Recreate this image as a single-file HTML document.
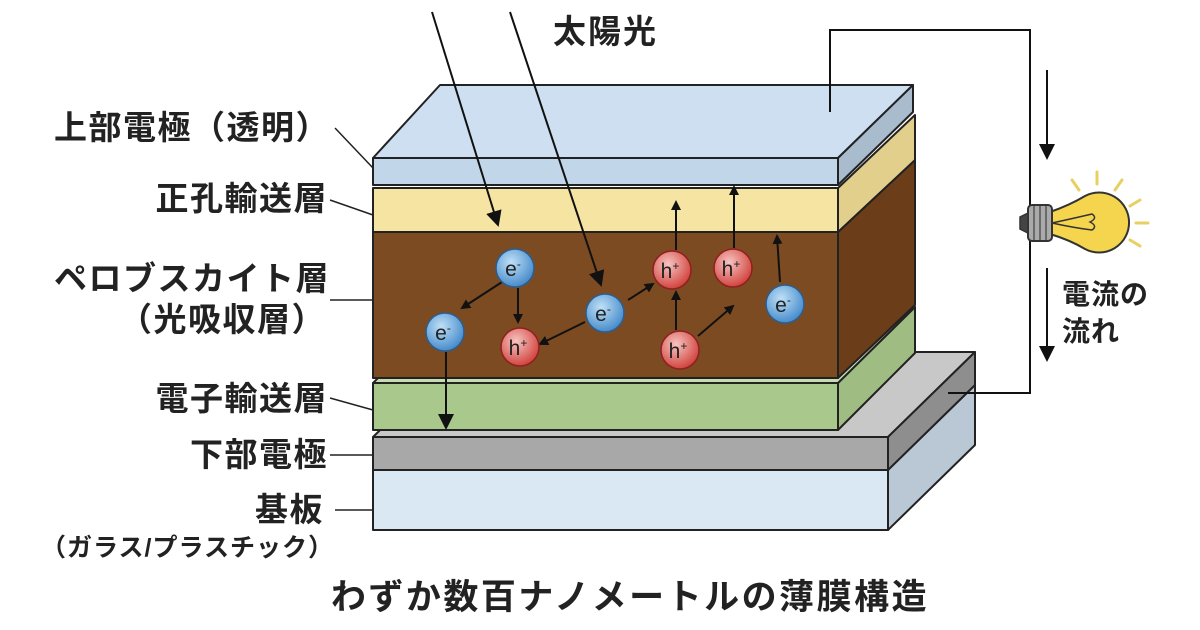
<!DOCTYPE html>
<html><head><meta charset="utf-8"><style>
html,body{margin:0;padding:0;background:#fff;}
svg{display:block}
text{font-family:"Liberation Sans","Noto Sans CJK JP",sans-serif;font-weight:bold;fill:#222}
</style></head><body>
<svg width="1200" height="630" viewBox="0 0 1200 630" xmlns="http://www.w3.org/2000/svg">
<defs>
<marker id="ah" markerWidth="10" markerHeight="10" refX="8" refY="5" orient="auto" markerUnits="userSpaceOnUse"><path d="M0,0 L10,5 L0,10 z" fill="#111"/></marker>
<marker id="ahb" markerWidth="16" markerHeight="16" refX="14" refY="8" orient="auto" markerUnits="userSpaceOnUse"><path d="M0,0 L16,8 L0,16 z" fill="#111"/></marker>
<radialGradient id="gb" cx="0.4" cy="0.35" r="0.7"><stop offset="0" stop-color="#bfe0f7"/><stop offset="1" stop-color="#3f86c8"/></radialGradient>
<radialGradient id="gr" cx="0.4" cy="0.35" r="0.7"><stop offset="0" stop-color="#f7c4c0"/><stop offset="1" stop-color="#cf3b36"/></radialGradient>
</defs>
<g stroke="#222" stroke-width="2" stroke-linejoin="round">
<polygon points="888,470 975,385 975,445 888,530" fill="#b9c8d4"/>
<rect x="373" y="470" width="515" height="60" fill="#d9e8f3"/>
<polygon points="373,437 460,352 975,352 888,437" fill="#c8c8c8"/>
<polygon points="888,437 975,352 975,385 888,470" fill="#8e8e8e"/>
<rect x="373" y="437" width="515" height="33" fill="#a8a8a8"/>
<polygon points="838,383 915,307 915,353 838,430" fill="#9fbc83"/>
<polygon points="373,383 450,307 915,307 838,383" fill="#c6dcae"/>
<rect x="373" y="383" width="465" height="47" fill="#a9c98c"/>
<polygon points="838,232 915,160 915,305 838,378" fill="#6b3d18"/>
<rect x="373" y="232" width="465" height="146" fill="#7d4b22"/>
<polygon points="838,188 915,115 915,160 838,232" fill="#e3cf8c"/>
<rect x="373" y="188" width="465" height="44" fill="#f6e4a3"/>
<polygon points="373,158 440,85 913,85 838,158" fill="#cddff0"/>
<polygon points="838,158 913,85 913,112 838,185" fill="#a9bccd"/>
<rect x="373" y="158" width="465" height="27" fill="#c2d6ea"/>
</g>
<g stroke="#222" stroke-width="1.5" fill="none">
<path d="M335,128 L373,168"/><path d="M330,200 L373,215"/><path d="M330,300 L373,300"/>
<path d="M330,398 L373,410"/><path d="M330,455 L373,455"/><path d="M335,510 L373,510"/>
</g>
<g stroke="#111" stroke-width="2" fill="none">
<path d="M830,112 L830,30 L1030,30 L1030,393 L948,393"/>
<line x1="1047" y1="70" x2="1047" y2="158" marker-end="url(#ahb)"/>
<line x1="1047" y1="268" x2="1047" y2="360" marker-end="url(#ahb)"/>
<line x1="432" y1="12" x2="498" y2="225" marker-end="url(#ahb)"/>
<line x1="510" y1="12" x2="601" y2="285" marker-end="url(#ahb)"/>
<line x1="502" y1="282" x2="462" y2="308" marker-end="url(#ah)"/>
<line x1="518" y1="288" x2="518" y2="322" marker-end="url(#ah)"/>
<line x1="585" y1="322" x2="540" y2="344" marker-end="url(#ah)"/>
<line x1="628" y1="300" x2="653" y2="284" marker-end="url(#ah)"/>
<line x1="676" y1="330" x2="676" y2="292" marker-end="url(#ah)"/>
<line x1="698" y1="336" x2="733" y2="306" marker-end="url(#ah)"/>
<line x1="676" y1="250" x2="676" y2="202" marker-end="url(#ah)"/>
<line x1="734" y1="248" x2="734" y2="187" marker-end="url(#ah)"/>
<line x1="780" y1="282" x2="777" y2="236" marker-end="url(#ah)"/>
<line x1="446" y1="352" x2="446" y2="428" marker-end="url(#ahb)"/>
</g>
<g stroke="#2b5e91" stroke-width="1.5">
<circle cx="515" cy="268" r="19" fill="url(#gb)"/>
<circle cx="445" cy="332" r="19" fill="url(#gb)"/>
<circle cx="605" cy="313" r="19" fill="url(#gb)"/>
<circle cx="785" cy="304" r="19" fill="url(#gb)"/>
</g>
<g stroke="#8e2020" stroke-width="1.5">
<circle cx="520" cy="347" r="19" fill="url(#gr)"/>
<circle cx="672" cy="270" r="19" fill="url(#gr)"/>
<circle cx="733" cy="268" r="19" fill="url(#gr)"/>
<circle cx="680" cy="350" r="19" fill="url(#gr)"/>
</g>
<g font-size="21" text-anchor="middle">
<text x="513" y="276" style="font-weight:normal">e<tspan font-size="12" dy="-8">-</tspan></text>
<text x="443" y="340" style="font-weight:normal">e<tspan font-size="12" dy="-8">-</tspan></text>
<text x="603" y="321" style="font-weight:normal">e<tspan font-size="12" dy="-8">-</tspan></text>
<text x="783" y="312" style="font-weight:normal">e<tspan font-size="12" dy="-8">-</tspan></text>
<text x="518" y="355" style="font-weight:normal">h<tspan font-size="12" dy="-8">+</tspan></text>
<text x="670" y="278" style="font-weight:normal">h<tspan font-size="12" dy="-8">+</tspan></text>
<text x="731" y="276" style="font-weight:normal">h<tspan font-size="12" dy="-8">+</tspan></text>
<text x="678" y="358" style="font-weight:normal">h<tspan font-size="12" dy="-8">+</tspan></text>
</g>
<g stroke="#e8d060" stroke-width="3" stroke-linecap="round">
<line x1="1097" y1="172" x2="1097" y2="184"/><line x1="1072" y1="180" x2="1079" y2="190"/>
<line x1="1122" y1="180" x2="1115" y2="190"/><line x1="1140" y1="200" x2="1130" y2="206"/>
<line x1="1148" y1="223" x2="1136" y2="223"/><line x1="1140" y1="246" x2="1130" y2="240"/>
</g>
<path d="M1050,212 Q1070,205 1085,196 A30,30 0 1 1 1085,249 Q1070,240 1050,234 Z" fill="#f5d54d" stroke="#333" stroke-width="2"/>
<path d="M1052,223 Q1075,218 1092,214 Q1098,218 1090,222 Q1098,226 1092,230 Q1075,228 1052,223" fill="none" stroke="#333" stroke-width="1.5"/>
<rect x="1028" y="205" width="24" height="36" rx="4" fill="#aaa" stroke="#333" stroke-width="2"/>
<g stroke="#555" stroke-width="1.5"><line x1="1034" y1="206" x2="1034" y2="240"/><line x1="1040" y1="206" x2="1040" y2="240"/><line x1="1046" y1="206" x2="1046" y2="240"/></g>
<path d="M1028,213 L1020,217 L1020,229 L1028,233 Z" fill="#444" stroke="#333" stroke-width="1.5"/>
<text x="553" y="43" font-size="33" letter-spacing="2">太陽光</text>
<text x="1062" y="304" font-size="28" letter-spacing="1">電流の</text>
<text x="1062" y="341" font-size="28" letter-spacing="1">流れ</text>
<g font-size="33" text-anchor="end" letter-spacing="1.5">
<text x="330" y="139">上部電極（透明）</text>
<text x="328" y="210">正孔輸送層</text>
<text x="330" y="290">ペロブスカイト層</text>
<text x="326" y="331">（光吸収層）</text>
<text x="328" y="410">電子輸送層</text>
<text x="328" y="466">下部電極</text>
<text x="324" y="521">基板</text>
</g>
<text x="334" y="556" font-size="25" text-anchor="end" letter-spacing="1">（ガラス/プラスチック）</text>
<text x="630" y="609" font-size="35" text-anchor="middle" letter-spacing="2.5">わずか数百ナノメートルの薄膜構造</text>
</svg>
</body></html>
